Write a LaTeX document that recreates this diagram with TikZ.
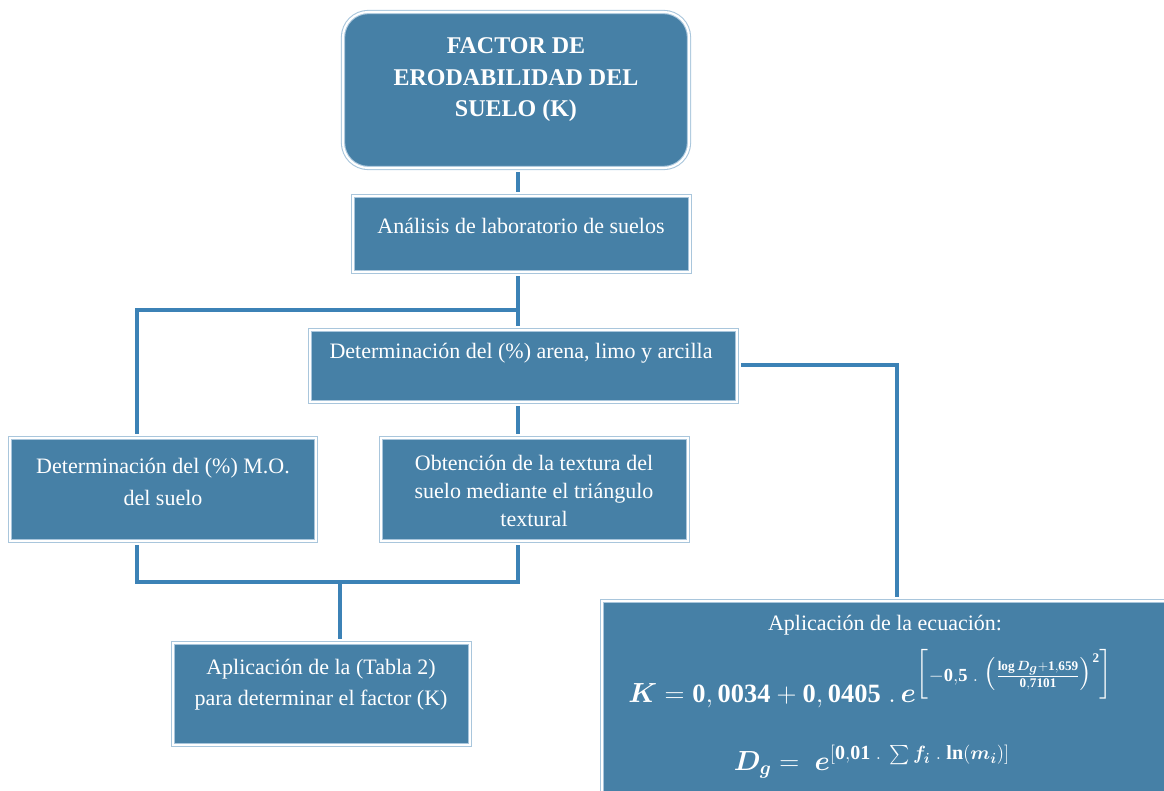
\documentclass[tikz,border=0pt]{standalone}
\usepackage{amsmath}
\usepackage{fontspec}
\setmainfont{Liberation Serif}
\definecolor{boxfill}{HTML}{4680A6}
\definecolor{outerline}{HTML}{A9C6DC}
\definecolor{linkblue}{HTML}{3C82B6}
\newcommand{\myKeq}{$\boldsymbol{K} = \mathbf{0,0034} + \mathbf{0,0405}\;.\,\boldsymbol{e}^{\Bigl[\mathbf{-0{,}5}\;.\;\bigl(\genfrac{}{}{}{2}{\mathbf{log}\,\boldsymbol{D_g}+\mathbf{1{,}659}}{\mathbf{0{,}7101}}\bigr)^{\mathbf{2}}\Bigr]}$}
\newcommand{\myDeq}{$\boldsymbol{D_g} =\; \boldsymbol{e}^{\mathbf{[0{,}01}\;.\;\sum \boldsymbol{f_i}\;.\;\mathbf{ln(}\boldsymbol{m_i}\mathbf{)]}}$}
\tikzset{
  box/.style={rectangle, fill=boxfill, draw=outerline, double=white, double distance=1.6pt, line width=0.8pt, inner sep=0pt},
  txt/.style={text=white, align=center, inner sep=0pt, font=\fontsize{16.5}{24}\selectfont},
  mtxt/.style={text=white, inner sep=0pt},
  link/.style={draw=linkblue, line width=2.6pt, shorten >=2.5pt, shorten <=2.5pt},
  linkm/.style={draw=linkblue, line width=2.6pt}
}
\begin{document}
\begin{tikzpicture}[x=0.75pt,y=-0.75pt]
\useasboundingbox (0,0) rectangle (1164,791);
% boxes
\node[box, rounded corners=19pt, minimum width=259.5pt, minimum height=117pt] (title) at (516,90) {};
\node[txt, font=\fontsize{18}{23.6}\selectfont\bfseries] (titletxt) at (516,80) {FACTOR DE\\ERODABILIDAD DEL\\SUELO (K)};
\node[box, minimum width=252.75pt, minimum height=57pt] (lab) at (521.5,234) {};
\node[txt] (labtxt) at (521,226) {Análisis de laboratorio de suelos};
\node[box, minimum width=320.25pt, minimum height=54pt] (gran) at (523.5,366) {};
\node[txt] (grantxt) at (521,353) {Determinación del (\%) arena, limo y arcilla};
\node[box, minimum width=229.5pt, minimum height=77.25pt] (mo) at (163,489.5) {};
\node[txt, font=\fontsize{16.5}{23.7}\selectfont] (motxt) at (163,482) {Determinación del (\%) M.O.\\del suelo};
\node[box, minimum width=230.25pt, minimum height=77.25pt] (tex) at (534.5,489.5) {};
\node[txt, font=\fontsize{16.5}{20.8}\selectfont] (textxt) at (534,491) {Obtención de la textura del\\suelo mediante el triángulo\\textural};
\node[box, minimum width=222.75pt, minimum height=76.5pt] (tab) at (321.5,694) {};
\node[txt, font=\fontsize{16.5}{23.2}\selectfont] (tabtxt) at (321,685) {Aplicación de la (Tabla 2)\\para determinar el factor (K)};
\node[box, minimum width=429.75pt, minimum height=150pt] (eq) at (888.5,701) {};
\node[txt] (eqtitle) at (885,625) {Aplicación de la ecuación:};
\node[mtxt, anchor=base west] (eqK) at (628,702) {\fontsize{19.8}{24}\selectfont\myKeq};
\node[mtxt, anchor=base] (eqD) at (872,770) {\fontsize{21.5}{25}\selectfont\myDeq};
% junction coordinates
\coordinate (j1) at (518,310);
\coordinate (jl) at (137,310);
\coordinate (j2) at (340,582);
\coordinate (bl) at (137,582);
\coordinate (br) at (518,582);
\coordinate (er) at (897,365);
% connectors
\draw[link] (title.south -| j1) -- (lab.north -| j1);
\draw[linkm, shorten <=2.5pt] (lab.south -| j1) -- (j1);
\draw[link, shorten <=0pt] (j1) -- (gran.north -| j1);
\draw[linkm, line cap=rect] (j1) -- (jl);
\draw[link, shorten <=0pt] (jl) -- (mo.north -| jl);
\draw[link] (gran.south -| j1) -- (tex.north -| j1);
\draw[linkm, shorten <=2.5pt, shorten >=2.5pt] (mo.south -| bl) -- (bl) -- (br) -- (tex.south -| br);
\draw[link, shorten <=0pt] (j2) -- (tab.north -| j2);
\draw[linkm, shorten <=2.5pt, shorten >=2.5pt] (gran.east |- er) -- (er) -- (eq.north -| er);
\end{tikzpicture}
\end{document}
